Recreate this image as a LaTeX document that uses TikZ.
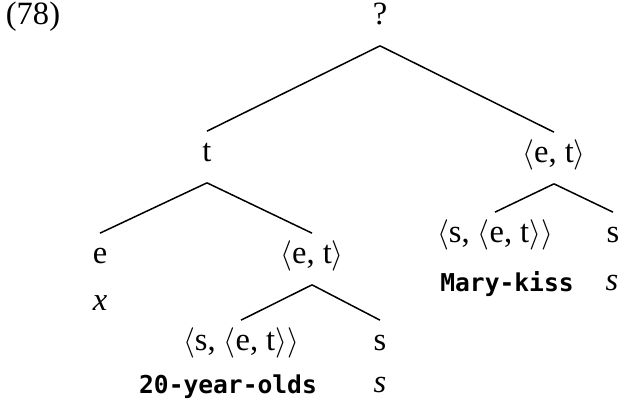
\documentclass[tikz,border=0pt]{standalone}
\usepackage{fontspec}
\setmainfont{Liberation Serif}
\setmonofont{DejaVu Sans Mono}
\usetikzlibrary{positioning}
\newcommand{\pair}[2]{$\langle$#1, #2$\rangle$}
\tikzset{
cat/.style={
inner sep=0pt,
minimum height=1.02cm,
text height=1.6ex,
text depth=.5ex,
font=\fontsize{18.5}{22}\selectfont
},
word/.style={
inner sep=0pt,
text height=1.6ex,
text depth=.5ex,
font=\fontsize{14}{16}\selectfont\ttfamily\bfseries
},
branch/.style={
line width=0.85pt
}
}

\begin{document}
\begin{tikzpicture}[x=0.02cm,y=-0.02cm]
\useasboundingbox (0,0) rectangle (620,412);
\node[cat](ex) at (33,20){(78)};
\node[cat](root) at (380,20){?};
\node[cat](t) at (207,157){t};
\node[cat](vp) at (554,158){\pair{e}{t}};
\node[cat](e) at (100,259){e};
\node[cat](np) at (312,259){\pair{e}{t}};
\node[cat](det) at (241,346){\pair{s}{\pair{e}{t}}};
\node[cat](s1) at (380,346){s};
\node[cat](vt) at (495,238){\pair{s}{\pair{e}{t}}};
\node[cat](s2) at (613,238){s};

% denotations under the leaves
\node[cat](xv) at (100,306){\textit{x}};
\node[word](olds) at (228,389){20-year-olds};
\node[cat](s1v) at (380,388){\textit{s}};
\node[word](mk) at (507,287){Mary-kiss};
\node[cat](s2v) at (612,286){\textit{s}};

\foreach \a/\b in {root/t,root/vp,t/e,t/np,np/det,np/s1,vp/vt,vp/s2}
\draw[branch](\a.south)--(\b.north);
\end{tikzpicture}
\end{document}
